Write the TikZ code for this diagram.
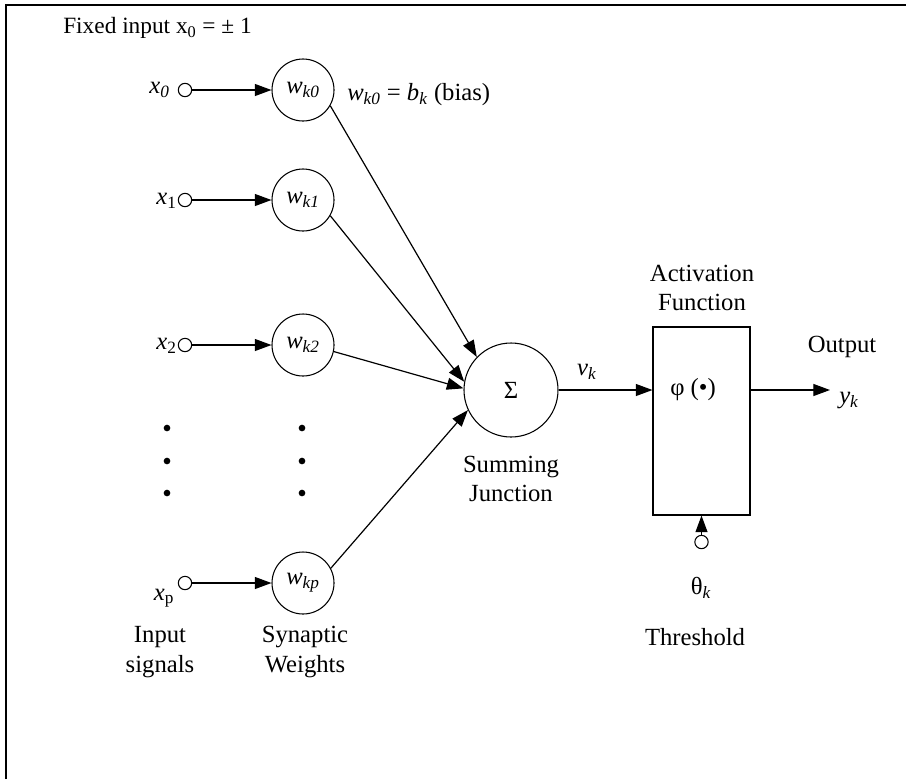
\documentclass[tikz,border=0pt]{standalone}
\usepackage{fontspec}
\setmainfont{Liberation Serif}
\usetikzlibrary{arrows.meta}
\usetikzlibrary{shapes}

\tikzset{
  lbl/.style={inner sep=0.75pt, font=\fontsize{18.5}{22}\selectfont},
  pin/.style={draw, circle, inner sep=0pt, minimum size=10pt, line width=0.8pt},
  wcirc/.style={draw, circle, inner sep=0pt, minimum size=46.5pt, line width=0.8pt, font=\fontsize{18.5}{22}\selectfont},
  dotpt/.style={fill, circle, inner sep=0pt, minimum size=5pt},
  arr/.style={line width=0.9pt, -{Triangle[length=12.5pt,width=9pt]}},
}
\newcommand{\wlab}[1]{\textit{w}\textsubscript{\textit{#1}}}

\begin{document}
\begin{tikzpicture}[x=0.75pt,y=0.75pt,yscale=-1,xscale=1]
\useasboundingbox (0,0) rectangle (906,779);

%Frame
\draw [line width=1.5pt] (6,779) -- (6,5) -- (906,5) ;

% Text Node
\node [lbl, anchor=west, font=\fontsize{17.5}{21}\selectfont] (fixed) at (62,28) {Fixed input x\textsubscript{0} = ± 1};

%Shape: input pins
\node [pin] (in0) at (185,90) {};
\node [pin] (in1) at (185,200) {};
\node [pin] (in2) at (185,345) {};
\node [pin] (inp) at (185,583) {};

%Shape: synaptic weights
\node [wcirc] (w0) at (303,90) {\wlab{k0}};
\node [wcirc] (w1) at (303,200) {\wlab{k1}};
\node [wcirc] (w2) at (303,345) {\wlab{k2}};
\node [wcirc] (wp) at (303,583) {\wlab{kp}};

%Shape: summing junction
\node [draw, circle, inner sep=0pt, minimum size=70.5pt, line width=0.8pt, font=\fontsize{18.5}{22}\selectfont] (sum) at (511,390) {Σ};

%Shape: activation box
\node [draw, rectangle, inner sep=0pt, minimum width=72.75pt, minimum height=141pt, line width=0.8pt] (act) at (701.5,421) {};
\node [lbl] (phi) at (693,390) {φ (•)};

%Shape: threshold pin
\node [pin] (th) at (701.5,542) {};

%Dots
\foreach \yy in {428,461,493} {
  \node [dotpt] at (167,\yy) {};
  \node [dotpt] at (302,\yy) {};
}

%Straight Lines
\draw [arr] (in0) -- (w0) ;
\draw [arr] (in1) -- (w1) ;
\draw [arr] (in2) -- (w2) ;
\draw [arr] (inp) -- (wp) ;
\draw [arr] (w0.-30) -- (sum.136) ;
\draw [arr] (w1.-30) -- (sum.170) ;
\draw [arr] (w2.-12) -- (sum.178) ;
\draw [arr] (wp.28) -- (sum.205) ;
\draw [arr] (sum) -- (act.west |- sum) ;
\coordinate (outEnd) at (830,390);
\draw [arr] (act.east |- sum) -- (outEnd) ;
\draw [arr] (th) -- (act.south) ;

% Text Node
\node [lbl, anchor=east] (x0) at (171,90) {\textit{x}\textsubscript{\textit{0}}};
\node [lbl, anchor=east] (x1) at (178,201) {\textit{x}\textsubscript{1}};
\node [lbl, anchor=east] (x2) at (178,346) {\textit{x}\textsubscript{2}};
\node [lbl] (xp) at (164,598) {\textit{x}\textsubscript{p}};
\node [lbl, anchor=west] (bias) at (346,95) {\wlab{k0} = \textit{b}\textsubscript{\textit{k}} (bias)};
\node [lbl] (vk) at (587,372) {\textit{v}\textsubscript{\textit{k}}};
\node [lbl, align=center] (actlab) at (702,288) {Activation\\Function};
\node [lbl] (outlab) at (842,347) {Output};
\node [lbl, anchor=west] (yk) at (838,400) {\textit{y}\textsubscript{\textit{k}}};
\node [lbl] (theta) at (701,588) {θ\textsubscript{\textit{k}}};
\node [lbl] (thlab) at (695,637) {Threshold};
\node [lbl, align=center] (sumlab) at (511,479) {Summing\\Junction};
\node [lbl, align=center] (inlab) at (160,652) {Input\\signals};
\node [lbl, align=center] (wlab) at (305,652) {Synaptic\\Weights};

\end{tikzpicture}
\end{document}
